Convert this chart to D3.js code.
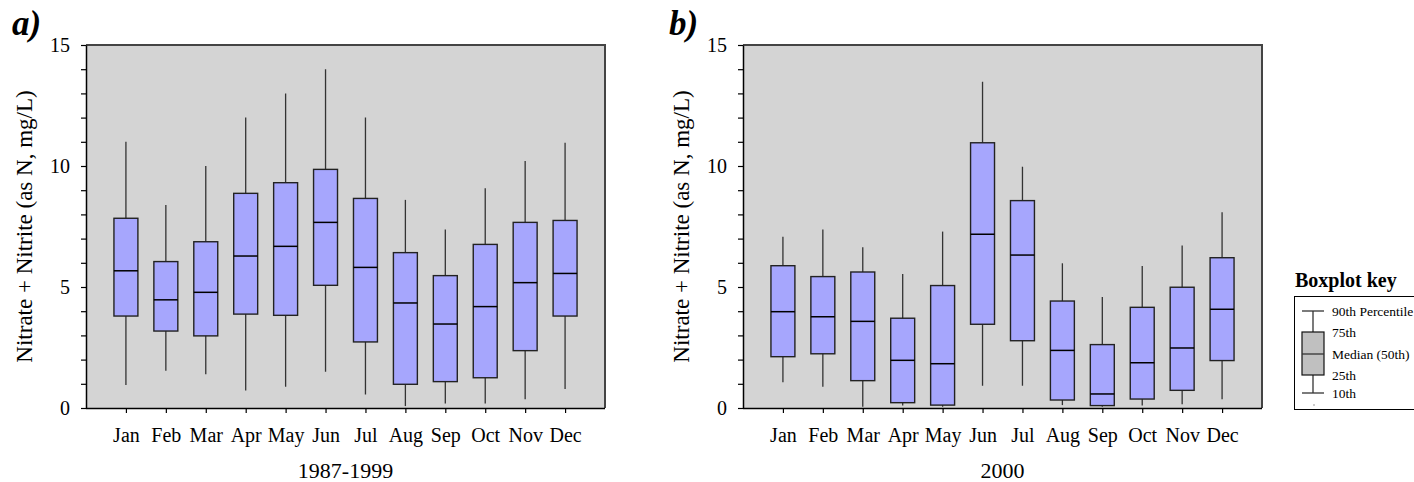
<!DOCTYPE html>
<html>
<head>
<meta charset="utf-8">
<script src="https://cdn.jsdelivr.net/npm/d3@7"></script>
<style>
  body { margin: 0; background: #fff; }
  text { font-family: "Liberation Serif", "Times New Roman", serif; fill: #000; }
</style>
</head>
<body>
<svg id="chart" width="1414" height="482"></svg>
<script>
const months = ["Jan", "Feb", "Mar", "Apr", "May", "Jun", "Jul", "Aug", "Sep", "Oct", "Nov", "Dec"];
const yTicks = [0, 1, 2, 3, 4, 5, 6, 7, 8, 9, 10, 11, 12, 13, 14, 15];

// panel a) 1987-1999
const a_p10 = [0.95, 1.54, 1.39, 0.72, 0.88, 1.5, 0.56, 0.08, 0.19, 0.19, 0.36, 0.79];
const a_q1  = [3.8, 3.18, 2.98, 3.88, 3.83, 5.07, 2.73, 0.98, 1.09, 1.25, 2.37, 3.8];
const a_med = [5.67, 4.47, 4.78, 6.28, 6.68, 7.67, 5.81, 4.34, 3.47, 4.19, 5.18, 5.56];
const a_q3  = [7.84, 6.05, 6.87, 8.87, 9.31, 9.86, 8.66, 6.42, 5.47, 6.76, 7.67, 7.75];
const a_p90 = [11.0, 8.39, 10.0, 12.0, 13.0, 14.0, 12.0, 8.6, 7.38, 9.08, 10.21, 10.96];

// panel b) 2000
const b_p10 = [1.06, 0.88, 0.05, 0.1, 0.05, 0.92, 0.92, 0.12, 0.05, 0.1, 0.15, 0.36];
const b_q1  = [2.12, 2.24, 1.13, 0.22, 0.12, 3.46, 2.78, 0.33, 0.1, 0.37, 0.73, 1.96];
const b_med = [3.98, 3.77, 3.58, 1.97, 1.83, 7.18, 6.32, 2.38, 0.58, 1.87, 2.48, 4.08];
const b_q3  = [5.88, 5.43, 5.62, 3.71, 5.06, 10.96, 8.57, 4.42, 2.62, 4.16, 4.99, 6.21];
const b_p90 = [7.08, 7.38, 6.64, 5.54, 7.29, 13.48, 9.97, 5.98, 4.59, 5.87, 6.72, 8.09];

const svg = d3.select("#chart");
const serif = '"Liberation Serif", "Times New Roman", serif';

function drawPanel(left, label, xTitle, p10, q1, med, q3, p90) {
  const w = 519, top = 45, bottom = 408;

  const x = d3.scalePoint().domain(months).range([left, left + w]).padding(1);
  const y = d3.scaleLinear().domain([0, 15]).range([bottom, top]);
  const bw = x.step() * 0.6;

  const data = months.map((m, i) => ({ m, lo: p10[i], q1: q1[i], med: med[i], q3: q3[i], hi: p90[i] }));

  svg.append("rect")
    .attr("x", left).attr("y", top)
    .attr("width", w).attr("height", bottom - top)
    .attr("fill", "#d4d4d4");

  // top and right frame
  svg.append("path")
    .attr("d", `M${left},${top}H${left + w}V${bottom}`)
    .attr("fill", "none")
    .attr("stroke", "#444")
    .attr("stroke-width", 2);

  const g = svg.append("g");
  const box = g.selectAll("g.box").data(data).enter().append("g").attr("class", "box");

  box.append("line")
    .attr("x1", d => x(d.m)).attr("x2", d => x(d.m))
    .attr("y1", d => y(d.lo)).attr("y2", d => y(d.hi))
    .attr("stroke", "#333").attr("stroke-width", 1.3);

  box.append("rect")
    .attr("x", d => x(d.m) - bw / 2)
    .attr("y", d => y(d.q3))
    .attr("width", bw)
    .attr("height", d => y(d.q1) - y(d.q3))
    .attr("fill", "#a6a6fd")
    .attr("stroke", "#222")
    .attr("stroke-width", 1.4);

  box.append("line")
    .attr("x1", d => x(d.m) - bw / 2).attr("x2", d => x(d.m) + bw / 2)
    .attr("y1", d => y(d.med)).attr("y2", d => y(d.med))
    .attr("stroke", "#000").attr("stroke-width", 1.5);

  const yAxis = svg.append("g")
    .attr("transform", `translate(${left},0)`)
    .call(d3.axisLeft(y).tickValues(yTicks)
      .tickFormat(d => d % 5 === 0 ? d : "")
      .tickSize(5).tickSizeOuter(0).tickPadding(11));
  yAxis.attr("font-family", serif);
  yAxis.selectAll("line").attr("stroke", "#000").attr("stroke-width", 1.2);
  yAxis.select(".domain").attr("stroke", "#000").attr("stroke-width", 1.5);
  yAxis.selectAll("text").style("font-size", "20px");

  const xAxis = svg.append("g")
    .attr("transform", `translate(0,${bottom})`)
    .call(d3.axisBottom(x).tickSize(5).tickSizeOuter(0).tickPadding(15));
  xAxis.attr("font-family", serif);
  xAxis.select(".domain").attr("stroke", "#000").attr("stroke-width", 1.5)
    .attr("d", `M${left},0.5H${left + w}`);
  xAxis.selectAll("line").attr("stroke", "#000").attr("stroke-width", 1.2);
  xAxis.selectAll("text").style("font-size", "20px");

  svg.append("text")
    .attr("transform", `translate(${left - 62},${(top + bottom) / 2}) rotate(-90)`)
    .attr("text-anchor", "middle")
    .attr("dy", "0.35em")
    .style("font-size", "23px")
    .text("Nitrate + Nitrite (as N, mg/L)");

  svg.append("text")
    .attr("x", left + w / 2).attr("y", 478)
    .attr("text-anchor", "middle")
    .style("font-size", "22px")
    .text(xTitle);

  svg.append("text")
    .attr("x", left - 74).attr("y", 35)
    .style("font-size", "35px")
    .style("font-weight", "bold")
    .style("font-style", "italic")
    .text(label);
}

drawPanel(86, "a)", "1987-1999", a_p10, a_q1, a_med, a_q3, a_p90);
drawPanel(743, "b)", "2000", b_p10, b_q1, b_med, b_q3, b_p90);

// boxplot key
const key = svg.append("g");
key.append("text")
  .attr("x", 1295).attr("y", 287)
  .style("font-size", "20px").style("font-weight", "bold")
  .text("Boxplot key");
key.append("rect")
  .attr("x", 1294.5).attr("y", 296.5)
  .attr("width", 130).attr("height", 113)
  .attr("fill", "#fff").attr("stroke", "#000").attr("stroke-width", 1);

const keyLabels = ["90th Percentile", "75th", "Median (50th)", "25th", "10th"];
const keyY = [311, 332, 354, 375, 393];
const kx = 1313, kw = 22;
key.append("line").attr("x1", kx).attr("x2", kx).attr("y1", keyY[0]).attr("y2", keyY[4])
  .attr("stroke", "#333").attr("stroke-width", 1.3);
[keyY[0], keyY[4]].forEach(yy => {
  key.append("line").attr("x1", kx - kw / 2).attr("x2", kx + kw / 2).attr("y1", yy).attr("y2", yy)
    .attr("stroke", "#333").attr("stroke-width", 1.3);
});
key.append("rect")
  .attr("x", kx - kw / 2).attr("y", keyY[1])
  .attr("width", kw).attr("height", keyY[3] - keyY[1])
  .attr("fill", "#c0c0c0").attr("stroke", "#111").attr("stroke-width", 1.2);
key.append("line").attr("x1", kx - kw / 2).attr("x2", kx + kw / 2).attr("y1", keyY[2]).attr("y2", keyY[2])
  .attr("stroke", "#333").attr("stroke-width", 1.3);
key.append("line").attr("x1", kx).attr("x2", kx + 2).attr("y1", 405).attr("y2", 405)
  .attr("stroke", "#999").attr("stroke-width", 1);
key.selectAll("text.kl").data(keyLabels).enter().append("text")
  .attr("class", "kl")
  .attr("x", 1332)
  .attr("y", (d, i) => keyY[i])
  .attr("dy", "0.35em")
  .style("font-size", "13.5px")
  .text(d => d);
</script>
</body>
</html>
